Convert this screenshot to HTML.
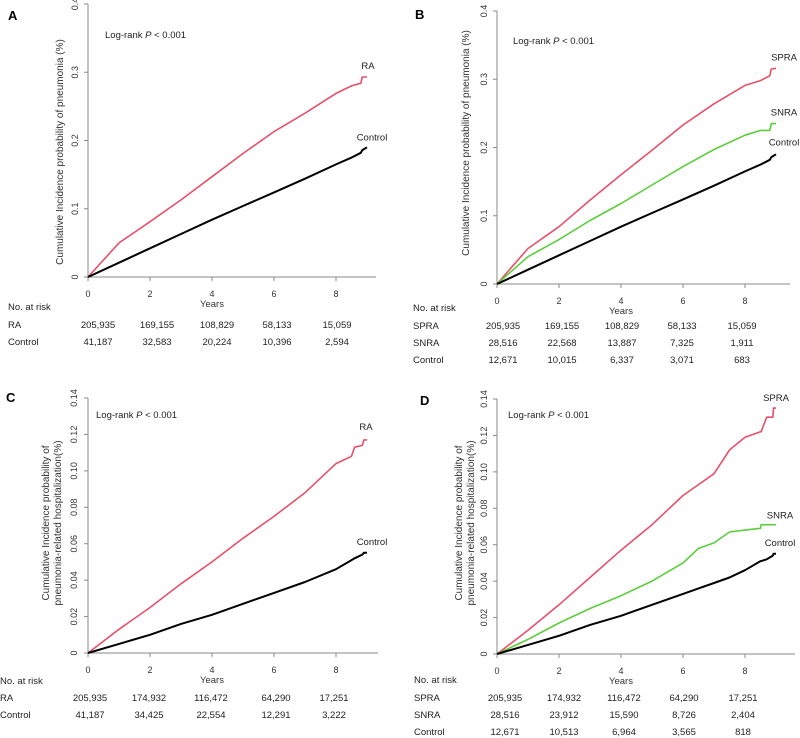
<!DOCTYPE html>
<html><head><meta charset="utf-8"><style>
html,body{margin:0;padding:0;background:#fff;}
svg{display:block;font-family:"Liberation Sans",Arial,sans-serif;}
</style></head><body>
<svg id="fig" width="800" height="738" viewBox="0 0 800 738"></svg>
<script>
const years=[0,1,2,3,4,5,6,7,8,8.5,8.8,8.85,9];
const aRA=[0,0.05,0.081,0.113,0.147,0.181,0.213,0.24,0.269,0.28,0.284,0.293,0.293];
const aCtl=[0,0.021,0.042,0.063,0.084,0.104,0.124,0.144,0.165,0.175,0.182,0.186,0.19];
const bSPRA=[0,0.052,0.084,0.123,0.16,0.196,0.233,0.264,0.291,0.298,0.305,0.315,0.316];
const bSNRA=[0,0.04,0.065,0.093,0.118,0.145,0.172,0.197,0.218,0.225,0.225,0.235,0.235];
const yearsC=[0,1,2,3,4,5,6,7,8,8.5,8.6,8.85,8.9,9];
const cRA=[0,0.013,0.025,0.038,0.05,0.063,0.075,0.088,0.104,0.108,0.113,0.114,0.117,0.117];
const cCtl=[0,0.005,0.01,0.016,0.021,0.027,0.033,0.039,0.046,0.051,0.052,0.054,0.055,0.055];
const yearsD=[0,1,2,3,4,5,6,6.5,7,7.5,8,8.5,8.52,8.7,8.9,8.92,9];
const dSPRA=[0,0.013,0.027,0.042,0.057,0.071,0.087,0.093,0.099,0.112,0.119,0.122,0.122,0.13,0.13,0.135,0.135];
const dSNRA=[0,0.008,0.017,0.025,0.032,0.04,0.05,0.058,0.061,0.067,0.068,0.069,0.071,0.071,0.071,0.071,0.071];
const dCtl=[0,0.005,0.01,0.016,0.021,0.027,0.033,0.036,0.039,0.042,0.046,0.051,0.051,0.052,0.054,0.055,0.055];
const xTicks=[0,2,4,6,8];
const ticks04=["0","0.1","0.2","0.3","0.4"];
const tickVals04=[0,0.1,0.2,0.3,0.4];
const ticks014=["0","0.02","0.04","0.06","0.08","0.10","0.12","0.14"];
const tickVals014=[0,0.02,0.04,0.06,0.08,0.10,0.12,0.14];
const riskA=[["RA","205,935","169,155","108,829","58,133","15,059"],["Control","41,187","32,583","20,224","10,396","2,594"]];
const riskB=[["SPRA","205,935","169,155","108,829","58,133","15,059"],["SNRA","28,516","22,568","13,887","7,325","1,911"],["Control","12,671","10,015","6,337","3,071","683"]];
const riskC=[["RA","205,935","174,932","116,472","64,290","17,251"],["Control","41,187","34,425","22,554","12,291","3,222"]];
const riskD=[["SPRA","205,935","174,932","116,472","64,290","17,251"],["SNRA","28,516","23,912","15,590","8,726","2,404"],["Control","12,671","10,513","6,964","3,565","818"]];

const NS="http://www.w3.org/2000/svg";
const svg=document.getElementById('fig');
function mk(tag,attrs,parent,text){const e=document.createElementNS(NS,tag);for(const k in attrs)e.setAttribute(k,attrs[k]);if(text!==undefined)e.textContent=text;(parent||svg).appendChild(e);return e;}

function panel(p){
  const g=mk('g',{});
  
  
  const sx=v=>p.x0+(p.x8-p.x0)*v/8;
  const sy=v=>p.y0-(p.y0-p.yTop)*v/p.ymax;
  const ax=mk('path',{d:`M${p.x0},${p.yTop} V${p.y0} H${p.xEnd}`,fill:'none',stroke:'#8a8a8a','stroke-width':1},g);
  
  
  p.yVals.forEach((v,i)=>{
    mk('line',{x1:p.x0-4,x2:p.x0,y1:sy(v),y2:sy(v),stroke:'#8a8a8a'},g);
    const t=mk('text',{x:p.ytx,y:sy(v),'font-size':9,'text-anchor':'middle',fill:'#333',transform:`rotate(-90 ${p.ytx} ${sy(v)})`},g,p.yLabels[i]);
    
    
  });
  xTicks.forEach(v=>{
    mk('line',{x1:sx(v),x2:sx(v),y1:p.y0,y2:p.y0+4,stroke:'#8a8a8a'},g);
    const t=mk('text',{x:sx(v),y:p.y0+20,'font-size':9,'text-anchor':'middle',fill:'#333'},g,String(v));
    
    
  });
  const yr=mk('text',{x:sx(4),y:p.y0+30,'font-size':9.5,'text-anchor':'middle',fill:'#333'},g,'Years');
  
  
  p.ytitle.forEach((s,i)=>{
    const x=p.ytitleX[i];
    const t=mk('text',{x:x,y:p.ytitleY,'font-size':10,'text-anchor':'middle',fill:'#333',transform:`rotate(-90 ${x} ${p.ytitleY})`},g,s);
    
    
  });
  const L=mk('text',{x:p.letter[0],y:p.letter[1],'font-size':13,'font-weight':'bold',fill:'#000'},g,p.id);
  
  
  const lr=mk('text',{x:p.lr[0],y:p.lr[1],'font-size':9.5,fill:'#222'},g);
  
  
  mk('tspan',{},lr,'Log-rank ');mk('tspan',{'font-style':'italic'},lr,'P');mk('tspan',{},lr,' < 0.001');
  p.series.forEach(s=>{
    const pts=s.xs.map((x,i)=>sx(x).toFixed(1)+','+sy(s.ys[i]).toFixed(1)).join(' ');
    const pl=mk('polyline',{points:pts,fill:'none',stroke:s.color,'stroke-width':s.w,'stroke-linejoin':'round'},g);
    
    
    const t=mk('text',{x:s.lx,y:sy(s.ys[s.ys.length-1])+s.ldy,'font-size':9.5,'text-anchor':'middle',fill:'#222'},g,s.name);
    
    
  });
  const nr=mk('text',{x:p.riskX,y:p.riskY0,'font-size':9.5,fill:'#222'},g,'No. at risk');
  
  
  p.risk.forEach((row,r)=>{
    const y=p.riskRow0+r*17;
    const t=mk('text',{x:p.riskX,y:y,'font-size':9.5,fill:'#222'},g,row[0]);
    
    
    for(let c=1;c<6;c++){
      const v=mk('text',{x:p.cols[c-1],y:y,'font-size':9.5,'text-anchor':'middle',fill:'#222'},g,row[c]);
      
      
    }
  });
}
const RED='#e8506a',GRN='#5ccd3c',BLK='#000';
panel({id:'A',x0:88,x8:336,xEnd:376,y0:277,yTop:4,ymax:0.4,yVals:tickVals04,yLabels:ticks04,ytx:78,
  ytitle:['Cumulative Incidence probability of pneumonia (%)'],ytitleX:[63],ytitleY:152,letter:[8,20],lr:[105,38],
  series:[{name:'RA',xs:years,ys:aRA,color:RED,w:1.6,lx:368,ldy:-8},{name:'Control',xs:years,ys:aCtl,color:BLK,w:2,lx:372,ldy:-7}],
  risk:riskA,riskX:8,riskY0:310,riskRow0:328,cols:[98,157,217,277,337]});
panel({id:'B',x0:497,x8:745,xEnd:790,y0:284,yTop:11,ymax:0.4,yVals:tickVals04,yLabels:ticks04,ytx:487,
  ytitle:['Cumulative Incidence probability of pneumonia (%)'],ytitleX:[469],ytitleY:143,letter:[415,19],lr:[513,44],
  series:[{name:'SPRA',xs:years,ys:bSPRA,color:RED,w:1.6,lx:784,ldy:-8},{name:'SNRA',xs:years,ys:bSNRA,color:GRN,w:1.6,lx:784,ldy:-8},{name:'Control',xs:years,ys:aCtl,color:BLK,w:2,lx:784,ldy:-9}],
  risk:riskB,riskX:413,riskY0:311,riskRow0:329,cols:[503,562,622,682,742]});
panel({id:'C',x0:88,x8:336,xEnd:378,y0:653,yTop:398,ymax:0.14,yVals:tickVals014,yLabels:ticks014,ytx:77,
  ytitle:['Cumulative Incidence probability of','pneumonia-related hospitalization(%)'],ytitleX:[49,61],ytitleY:523,letter:[6,402],lr:[96,418],
  series:[{name:'RA',xs:yearsC,ys:cRA,color:RED,w:1.6,lx:366,ldy:-10},{name:'Control',xs:yearsC,ys:cCtl,color:BLK,w:2,lx:372,ldy:-8}],
  risk:riskC,riskX:0,riskY0:684,riskRow0:701,cols:[90,149,211,276,334]});
panel({id:'D',x0:497,x8:745,xEnd:795,y0:654,yTop:399,ymax:0.14,yVals:tickVals014,yLabels:ticks014,ytx:487,
  ytitle:['Cumulative Incidence probability of','pneumonia-related hospitalization(%)'],ytitleX:[462,474],ytitleY:523,letter:[420,405],lr:[508,418],
  series:[{name:'SPRA',xs:yearsD,ys:dSPRA,color:RED,w:1.6,lx:776,ldy:-7},{name:'SNRA',xs:yearsD,ys:dSNRA,color:GRN,w:1.6,lx:780,ldy:-6},{name:'Control',xs:yearsD,ys:dCtl,color:BLK,w:2,lx:780,ldy:-8}],
  risk:riskD,riskX:414,riskY0:683,riskRow0:701,cols:[505,564,624,684,743]});
</script>
</body></html>
